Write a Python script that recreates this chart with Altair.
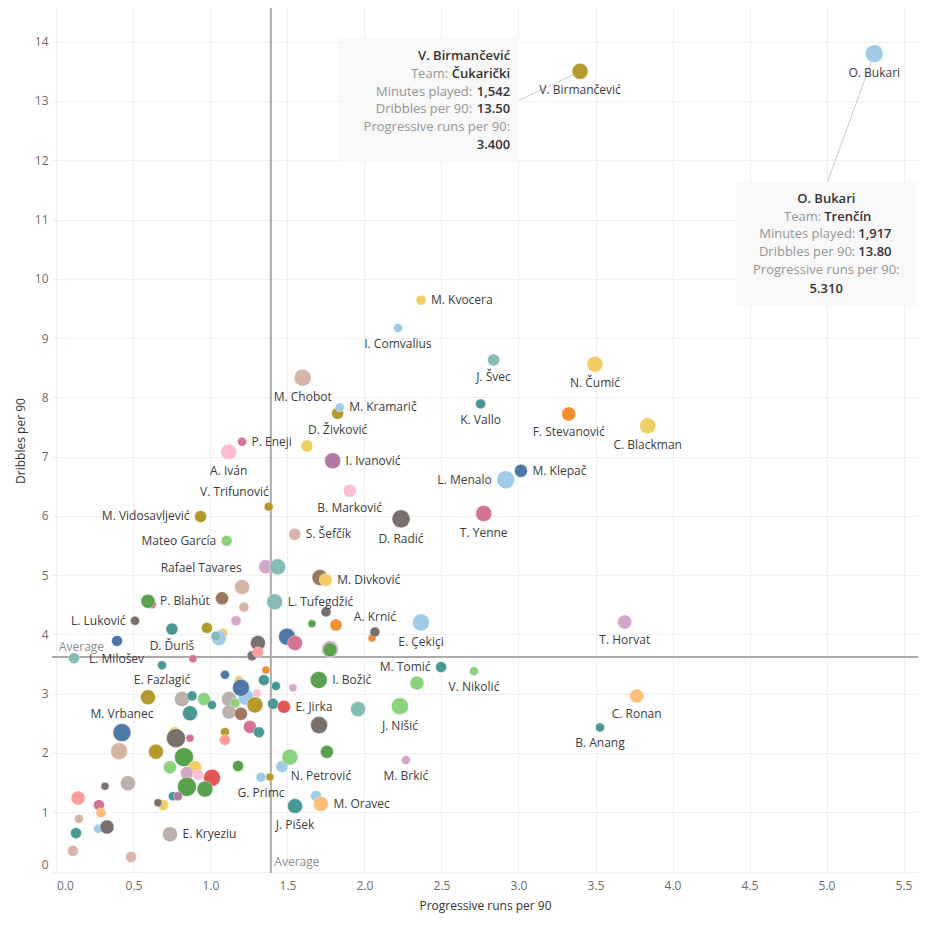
import math
import altair as alt
import pandas as pd

FONT = "Open Sans"

# ---------------- data ----------------
TEAMS = ["Team 1", "Trenčín", "Team 3", "Team 4", "Team 5", "Team 6", "Čukarički",
         "Team 8", "Team 9", "Team 10", "Team 11", "Team 12", "Team 13", "Team 14",
         "Team 15", "Team 16", "Team 17", "Team 18", "Team 19", "Team 20"]
PALETTE = ["#4e79a7", "#a0cbe8", "#f28e2b", "#ffbe7d", "#59a14f", "#8cd17d", "#b6992d",
           "#f1ce63", "#499894", "#86bcb6", "#e15759", "#ff9d9a", "#79706e", "#bab0ac",
           "#d37295", "#fabfd2", "#b07aa1", "#d4a6c8", "#9d7660", "#d7b5a6"]

NAMES = [
    "", "", "", "", "", "", "", "", "", "",                       # 0-9
    "", "", "", "", "", "", "", "", "", "",                       # 10-19
    "", "", "", "", "", "", "", "", "", "",                       # 20-29
    "", "", "", "", "", "", "", "", "", "",                       # 30-39
    "", "", "", "", "", "", "", "", "", "",                       # 40-49
    "", "", "", "", "", "", "", "", "", "",                       # 50-59
    "", "", "", "", "", "", "", "", "", "",                       # 60-69
    "", "", "", "", "", "", "", "", "", "",                       # 70-79
    "", "", "", "O. Bukari", "V. Birmančević", "M. Kvocera", "I. Comvalius",
    "J. Švec", "N. Čumić", "K. Vallo",                            # 80-89
    "F. Stevanović", "C. Blackman", "M. Klepač", "L. Menalo", "T. Yenne",
    "T. Horvat", "C. Ronan", "B. Anang", "M. Chobot", "D. Živković",   # 90-99
    "M. Kramarič", "P. Eneji", "A. Iván", "I. Ivanović", "V. Trifunović",
    "B. Marković", "M. Vidosavljević", "D. Radić", "S. Šefčík", "Mateo García",  # 100-109
    "Rafael Tavares", "", "", "M. Divković", "L. Tufegdžić",
    "", "P. Blahút", "L. Luković", "A. Krnić", "E. Çekiçi",       # 110-119
    "M. Tomić", "V. Nikolić", "I. Božić", "E. Jirka", "J. Nišić",
    "M. Brkić", "N. Petrović", "G. Primc", "M. Oravec", "J. Pišek",  # 120-129
    "E. Kryeziu", "M. Vrbanec", "E. Fazlagić", "D. Ďuriš", "L. Milošev",  # 130-134
]

TEAM_IDX = [
    19, 18, 19, 17, 6, 7, 1, 9, 0, 8,
    14, 12, 12, 11, 2, 0, 7, 1, 0, 8,
    8, 17, 15, 13, 5, 6, 8, 13, 18, 14,
    8, 12, 9, 5, 17, 4, 0, 14, 4, 2,
    12, 2, 13, 8, 5, 8, 8, 7, 12, 14,
    6, 11, 19, 6, 4, 5, 7, 17, 15, 10,
    4, 4, 4, 6, 1, 5, 1, 12, 13, 11,
    14, 3, 7, 12, 8, 16, 19, 1, 12, 8,
    19, 19, 7, 1, 6, 7, 1, 9, 7, 8,
    2, 7, 0, 1, 14, 17, 3, 8, 19, 6,
    1, 14, 15, 16, 6, 15, 6, 12, 19, 5,
    17, 9, 18, 7, 9, 14, 4, 12, 12, 1,
    8, 5, 4, 10, 5, 17, 4, 1, 3, 8,
    13, 0, 6, 8, 9,
]

PROG = [
    1.205, 1.075, 1.217, 1.166, 0.977, 1.081, 1.055, 1.036, 0.393, 0.685,
    0.886, 1.308, 1.270, 1.308, 1.360, 1.094, 1.185, 1.230, 1.198, 1.347,
    1.425, 1.536, 1.302, 1.120, 1.159, 1.289, 1.406, 1.120, 1.198, 1.256,
    1.315, 1.705, 1.958, 2.341, 1.776, 1.776, 1.497, 1.549, 1.659, 1.815,
    1.750, 2.049, 0.815, 0.880, 0.958, 1.010, 0.867, 0.769, 0.776, 0.867,
    1.094, 1.094, 0.406, 0.646, 0.828, 0.737, 0.899, 0.847, 0.919, 1.010,
    0.847, 0.964, 1.179, 1.386, 1.464, 1.516, 1.685, 0.315, 0.464, 0.140,
    0.276, 0.289, 0.692, 0.659, 0.756, 0.789, 0.146, 0.270, 0.328, 0.127,
    0.107, 0.484, 1.626, 5.310, 3.400, 2.367, 2.217, 2.838, 3.497, 2.754,
    3.326, 3.839, 3.016, 2.917, 2.774, 3.690, 3.767, 3.529, 1.599, 1.826,
    1.839, 1.205, 1.118, 1.793, 1.378, 1.904, 0.936, 2.237, 1.547, 1.105,
    1.358, 1.436, 1.711, 1.748, 1.417, 0.620, 0.594, 0.510, 2.068, 2.367,
    2.497, 2.711, 1.703, 1.477, 2.230, 2.269, 1.756, 1.328, 1.717, 1.549,
    0.737, 0.425, 0.594, 0.750, 0.114,
]

DRIB = [
    4.80, 4.61, 4.46, 4.23, 4.11, 4.02, 3.94, 3.97, 3.89, 3.48,
    3.59, 3.855, 3.64, 3.70, 3.40, 3.32, 3.23, 2.94, 3.10, 3.23,
    3.13, 3.10, 3.01, 2.91, 2.84, 2.81, 2.83, 2.69, 2.66, 2.44,
    2.35, 2.47, 2.74, 3.18, 3.75, 3.74, 3.96, 3.855, 4.18, 4.16,
    4.38, 3.94, 2.91, 2.96, 2.91, 2.81, 2.67, 2.34, 2.25, 2.25,
    2.355, 2.22, 2.03, 2.02, 1.93, 1.76, 1.75, 1.66, 1.63, 1.58,
    1.43, 1.39, 1.78, 1.595, 1.77, 1.93, 1.275, 1.44, 1.49, 1.24,
    1.12, 0.99, 1.12, 1.16, 1.27, 1.27, 0.89, 0.72, 0.75, 0.65,
    0.35, 0.245, 7.18, 13.80, 13.50, 9.64, 9.17, 8.63, 8.56, 7.89,
    7.72, 7.52, 6.76, 6.61, 6.04, 4.21, 2.96, 2.43, 8.33, 7.73,
    7.83, 7.25, 7.08, 6.93, 6.155, 6.425, 5.99, 5.95, 5.69, 5.58,
    5.14, 5.14, 4.96, 4.92, 4.55, 4.51, 4.56, 4.23, 4.04, 4.20,
    3.45, 3.38, 3.23, 2.78, 2.79, 1.88, 2.02, 1.59, 1.14, 1.105,
    0.63, 2.345, 2.94, 4.09, 3.60,
]

MINUTES = [
    1355, 1020, 600, 600, 730, 600, 1355, 600, 730, 490,
    385, 1355, 600, 730, 385, 490, 490, 1540, 1740, 730,
    490, 385, 385, 1355, 600, 1540, 730, 1180, 1020, 1020,
    730, 1740, 1355, 1180, 1740, 1180, 1740, 1355, 385, 870,
    600, 385, 1355, 600, 1020, 490, 1355, 870, 2170, 385,
    490, 730, 1740, 1355, 2170, 1020, 1180, 1020, 730, 1740,
    2170, 1540, 730, 385, 870, 1540, 730, 385, 1355, 1180,
    730, 600, 730, 385, 490, 490, 490, 490, 1180, 730,
    730, 730, 870, 1917, 1542, 600, 490, 870, 1540, 600,
    1180, 1540, 1020, 1950, 1540, 1180, 1180, 490, 1740, 870,
    490, 490, 1540, 1540, 490, 1020, 870, 1950, 870, 730,
    1180, 1540, 1540, 1020, 1540, 490, 1180, 490, 600, 1740,
    730, 490, 1740, 1020, 1740, 490, 1020, 600, 1355, 1355,
    1355, 1950, 1355, 870, 730,
]

AVG_PROG = 1.392
AVG_DRIB = 3.62

X_TICKS = [0.0, 0.5, 1.0, 1.5, 2.0, 2.5, 3.0, 3.5, 4.0, 4.5, 5.0, 5.5]
Y_TICKS = list(range(0, 15))

CALLOUT_PLAYERS = ["V. Birmančević", "O. Bukari"]

# ---------------- layout / style ----------------
W, H = 866, 865
XMIN, XMAX = -0.029, 5.594
YMIN, YMAX = -0.025, 14.569
SIZE_K = 0.166
PXX = W / (XMAX - XMIN)
PXY = H / (YMAX - YMIN)

LABEL_POS = {
    "O. Bukari": "b", "V. Birmančević": "b", "M. Kvocera": "r", "I. Comvalius": "b",
    "J. Švec": "b", "N. Čumić": "b", "K. Vallo": "b", "F. Stevanović": "b",
    "C. Blackman": "b", "M. Klepač": "r", "L. Menalo": "l", "T. Yenne": "b",
    "T. Horvat": "b", "C. Ronan": "b", "B. Anang": "b", "M. Chobot": "b",
    "D. Živković": "b", "M. Kramarič": "r", "P. Eneji": "r", "A. Iván": "b",
    "I. Ivanović": "r", "B. Marković": "b", "M. Vidosavljević": "l", "D. Radić": "b",
    "S. Šefčík": "r", "Mateo García": "l", "M. Divković": "r", "L. Tufegdžić": "r",
    "P. Blahút": "r", "L. Luković": "l", "A. Krnić": "a", "E. Çekiçi": "b",
    "M. Tomić": "l", "V. Nikolić": "b", "I. Božić": "r", "E. Jirka": "r",
    "J. Nišić": "b", "M. Brkić": "b", "G. Primc": "b", "M. Oravec": "r",
    "J. Pišek": "b", "E. Kryeziu": "r", "M. Vrbanec": "a", "D. Ďuriš": "b",
}
LABEL_CUSTOM = {
    "V. Trifunović": ("right", 0, -15),
    "Rafael Tavares": ("right", -24, 1),
    "N. Petrović": ("center", -6, 24),
    "E. Fazlagić": ("center", 14, -17),
    "L. Milošev": ("left", 15, 1),
}

def rad(m):
    return math.sqrt(m * SIZE_K) / 2

pts = pd.DataFrame({
    "player": NAMES,
    "team": [TEAMS[i] for i in TEAM_IDX],
    "prog": PROG,
    "drib": DRIB,
    "minutes": MINUTES,
})
pts["order"] = range(len(pts))

# labels
rows = []
for name, p, d, m in zip(NAMES, PROG, DRIB, MINUTES):
    if not name:
        continue
    r = rad(m)
    if name in LABEL_CUSTOM:
        align, dx, dy = LABEL_CUSTOM[name]
    else:
        code = LABEL_POS.get(name, "b")
        if code == "b":
            align, dx, dy = "center", 0, r + 11
        elif code == "a":
            align, dx, dy = "center", 0, -(r + 10)
        elif code == "r":
            align, dx, dy = "left", r + 5, 0
        else:
            align, dx, dy = "right", -(r + 5), 0
    rows.append({"player": name, "prog": p + dx / PXX, "drib": d - dy / PXY, "align": align})
labels = pd.DataFrame(rows)

xs = alt.Scale(domain=[XMIN, XMAX], nice=False, zero=False)
ys = alt.Scale(domain=[YMIN, YMAX], nice=False, zero=False)

x_axis = alt.Axis(
    values=X_TICKS, format=".1f", title="Progressive runs per 90",
    grid=True, gridColor="#efefef", gridWidth=1, domain=False, ticks=False,
    labelFlush=False, labelOverlap=False,
    labelAlign={"condition": {"test": "datum.value === 0", "value": "left"}, "value": "center"},
    labelPadding=7, titlePadding=9,
)
y_axis = alt.Axis(
    values=Y_TICKS, format="d", title="Dribbles per 90",
    grid=True, gridColor="#efefef", gridWidth=1, domain=False, ticks=False,
    labelFlush=False, labelOverlap=False,
    labelBaseline={"condition": {"test": "datum.value === 0", "value": "bottom"}, "value": "middle"},
    labelPadding=4, titlePadding=7,
)

def X(field="prog"):
    return alt.X(f"{field}:Q", scale=xs, axis=x_axis)

def Y(field="drib"):
    return alt.Y(f"{field}:Q", scale=ys, axis=y_axis)

layers = []

# average lines
layers.append(alt.Chart(pd.DataFrame({"prog": [AVG_PROG]})).mark_rule(
    color="#a9a9a9", strokeWidth=2).encode(x=X()))
layers.append(alt.Chart(pd.DataFrame({"drib": [AVG_DRIB]})).mark_rule(
    color="#a9a9a9", strokeWidth=2).encode(y=Y()))
layers.append(alt.Chart(pd.DataFrame({"prog": [0.0], "drib": [AVG_DRIB], "t": ["Average"]})).mark_text(
    align="left", baseline="middle", dx=2.5, dy=-10, font=FONT, fontSize=12, color="#8c8c8c"
).encode(x=X(), y=Y(), text="t:N"))
layers.append(alt.Chart(pd.DataFrame({"prog": [AVG_PROG], "drib": [0.0], "t": ["Average"]})).mark_text(
    align="left", baseline="middle", dx=3.5, dy=-9.5, font=FONT, fontSize=12, color="#8c8c8c"
).encode(x=X(), y=Y(), text="t:N"))

# callouts (offsets in px relative to the player's point)
BOX = {"V. Birmančević": (-241, -61, -33, 90), "O. Bukari": (-138, 42, 129, 252)}
LEADER = {"V. Birmančević": (-61, 29), "O. Bukari": (-47, 129)}

rect_rows, lead_rows, txt_rows = [], [], []
for name in CALLOUT_PLAYERS:
    i = NAMES.index(name)
    p, d, m, team = PROG[i], DRIB[i], MINUTES[i], TEAMS[TEAM_IDX[i]]
    l, r_, t, b = BOX[name]
    rect_rows.append({"prog": p + l / PXX, "prog2": p + r_ / PXX,
                      "drib": d - t / PXY, "drib2": d - b / PXY})
    lx, ly = LEADER[name]
    lead_rows.append({"prog": p, "drib": d, "prog2": p + lx / PXX, "drib2": d - ly / PXY})
    if name == "V. Birmančević":
        items = [
            (name, "title", "right", -70, -15.7),
            ("Team:", "key", "right", -132, 2.6), (team, "val", "right", -70, 2.6),
            ("Minutes played:", "key", "right", -108, 20.3), (f"{m:,}", "val", "right", -70, 20.3),
            ("Dribbles per 90:", "key", "right", -108, 37.6), (f"{d:.2f}", "val", "right", -70, 37.6),
            ("Progressive runs per 90:", "key", "right", -70, 56.0),
            (f"{p:.3f}", "val", "right", -70, 73.6),
        ]
    else:
        items = [
            (name, "title", "center", -48, 145.7),
            ("Team:", "key", "right", -53, 163.4), (team, "val", "left", -50, 163.4),
            ("Minutes played:", "key", "right", -19, 180.9), (f"{m:,}", "val", "left", -16, 180.9),
            ("Dribbles per 90:", "key", "right", -19, 198.7), (f"{d:.2f}", "val", "left", -16, 198.7),
            ("Progressive runs per 90:", "key", "center", -48, 216.9),
            (f"{p:.3f}", "val", "center", -48, 235.2),
        ]
    for text, tone, align, dx, dy in items:
        txt_rows.append({"t": text, "tone": tone, "align": align,
                         "prog": p + dx / PXX, "drib": d - dy / PXY})

lead_df = pd.DataFrame(lead_rows)
layers.append(alt.Chart(lead_df).mark_rule(color="#c8c8c8", strokeWidth=1).encode(
    x=X(), y=Y(), x2="prog2:Q", y2="drib2:Q"))
layers.append(alt.Chart(pd.DataFrame(rect_rows)).mark_rect(color="#f8f8f8").encode(
    x=X(), y=Y(), x2="prog2:Q", y2="drib2:Q"))

txt_df = pd.DataFrame(txt_rows)
TONE_STYLE = {"title": ("#333333", 600), "key": ("#959595", "normal"), "val": ("#333333", 600)}
for (tone, align), sub in txt_df.groupby(["tone", "align"]):
    col, wt = TONE_STYLE[tone]
    layers.append(alt.Chart(sub).mark_text(
        align=align, baseline="middle", font=FONT, fontSize=13, color=col, fontWeight=wt
    ).encode(x=X(), y=Y(), text="t:N"))

# points
layers.append(alt.Chart(pts).mark_circle(
    opacity=1, stroke="white", strokeWidth=0.6, strokeOpacity=0.6
).encode(
    x=X(), y=Y(),
    size=alt.Size("minutes:Q", scale=alt.Scale(domain=[0, 2200], range=[0, 2200 * SIZE_K]), legend=None),
    color=alt.Color("team:N", scale=alt.Scale(domain=TEAMS, range=PALETTE), legend=None),
    order=alt.Order("order:Q"),
    tooltip=["player:N", "team:N", "minutes:Q", "drib:Q", "prog:Q"],
))

# labels
for align, sub in labels.groupby("align"):
    layers.append(alt.Chart(sub).mark_text(
        align=align, baseline="middle", font=FONT, fontSize=12, color="#3c3c3c"
    ).encode(x=X(), y=Y(), text="player:N"))

chart = alt.layer(*layers).properties(
    width=W, height=H,
    autosize=alt.AutoSizeParams(type="none"),
    padding={"left": 44, "top": 0, "right": 0, "bottom": 45},
    background="white",
).configure_view(stroke=None).configure_axis(
    labelFont=FONT, labelFontSize=12, labelColor="#6b6b6b",
    titleFont=FONT, titleFontSize=12, titleColor="#333333", titleFontWeight="normal",
)

chart.save("out.html", embed_options={"renderer": "svg", "actions": False})
